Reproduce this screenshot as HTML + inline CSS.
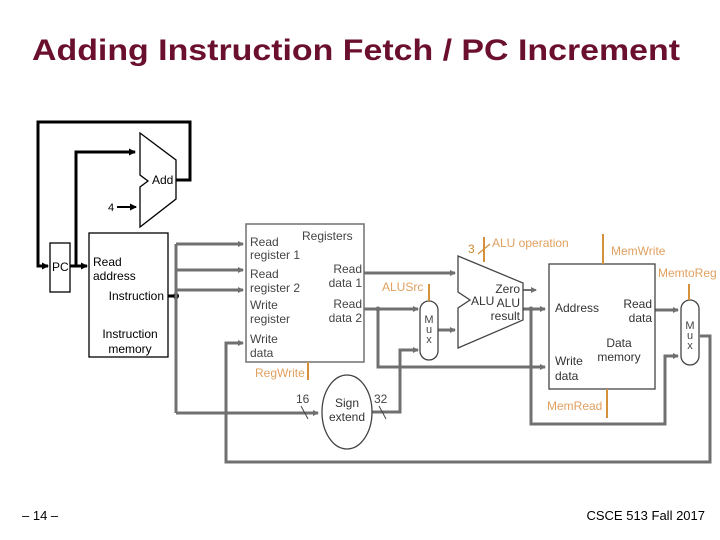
<!DOCTYPE html>
<html><head><style>
body{margin:0;background:#fff;width:720px;height:540px;overflow:hidden}
svg{display:block}
text{font-family:"Liberation Sans",sans-serif}
</style></head><body>
<svg width="720" height="540" viewBox="0 0 720 540">
<defs>
<marker id="ag" markerWidth="6" markerHeight="6" refX="5" refY="3" orient="auto" markerUnits="userSpaceOnUse"><path d="M0,0 L6,3 L0,6z" fill="#707070"/></marker>
<marker id="ab" markerWidth="7" markerHeight="7" refX="6" refY="3.5" orient="auto" markerUnits="userSpaceOnUse"><path d="M0,0 L7,3.5 L0,7z" fill="#000"/></marker>
</defs>
<text x="32" y="60" font-size="30" font-weight="bold" fill="#6b0f2e" textLength="648" lengthAdjust="spacingAndGlyphs">Adding Instruction Fetch / PC Increment</text>

<g fill="none" stroke="#000" stroke-width="3">
<polyline points="176,180 190,180 190,122 38,122 38,266 48,266" marker-end="url(#ab)"/>
<polyline points="70,266 76,266 76,152 135,152" marker-end="url(#ab)"/>
<line x1="76" y1="266" x2="87" y2="266" marker-end="url(#ab)"/>
<line x1="117" y1="207" x2="136" y2="207" stroke-width="2" marker-end="url(#ab)"/>
<line x1="164" y1="296" x2="176" y2="296"/>
</g>
<circle cx="176" cy="296" r="3" fill="#000"/>
<text x="108" y="211" font-size="11">4</text>
<polygon points="140,133 176,160 176,199 140,227 140,187 148,181 140,175" fill="#fff" stroke="#000" stroke-width="1.3"/>
<text x="152" y="184" font-size="12">Add</text>

<rect x="50" y="243" width="20" height="49" fill="#fff" stroke="#000" stroke-width="1.3"/>
<text x="52" y="271" font-size="12">PC</text>

<rect x="89" y="233" width="79" height="124" fill="#fff" stroke="#000" stroke-width="1.3"/>
<g font-size="12">
<text x="93" y="266">Read</text><text x="93" y="280">address</text>
<text x="164" y="300" text-anchor="end">Instruction</text>
<text x="130" y="338" text-anchor="middle">Instruction</text>
<text x="130" y="353" text-anchor="middle">memory</text>
</g>

<g fill="none" stroke="#707070" stroke-width="3">
<line x1="176" y1="244" x2="176" y2="413"/>
<line x1="176" y1="244" x2="243" y2="244" marker-end="url(#ag)"/>
<line x1="176" y1="270" x2="243" y2="270" marker-end="url(#ag)"/>
<line x1="176" y1="290" x2="243" y2="290" marker-end="url(#ag)"/>
<line x1="176" y1="413" x2="318" y2="413" marker-end="url(#ag)"/>
<polyline points="700,336 710,336 710,462 226,462 226,343 243,343" marker-end="url(#ag)"/>
<line x1="364" y1="273" x2="455" y2="273" marker-end="url(#ag)"/>
<line x1="364" y1="309" x2="418" y2="309" marker-end="url(#ag)"/>
<polyline points="378,309 378,367 545,367" marker-end="url(#ag)"/>
<polyline points="372,412 400,412 400,350 418,350" marker-end="url(#ag)"/>
<line x1="438" y1="330" x2="455" y2="330" marker-end="url(#ag)"/>
<line x1="522" y1="290" x2="536" y2="290" stroke-width="2" marker-end="url(#ag)"/>
<line x1="522" y1="309" x2="545" y2="309" marker-end="url(#ag)"/>
<polyline points="531,309 531,424 665,424 665,356 678,356" marker-end="url(#ag)"/>
<line x1="655" y1="310" x2="678" y2="310" marker-end="url(#ag)"/>
</g>
<circle cx="378" cy="309" r="2.5" fill="#707070"/>
<circle cx="531" cy="309" r="2.5" fill="#707070"/>

<rect x="246" y="224" width="118" height="138" fill="#fff" stroke="#707070" stroke-width="1.5"/>
<g font-size="12" fill="#444">
<text x="302" y="240">Registers</text>
<text x="250" y="246">Read</text><text x="250" y="259">register 1</text>
<text x="250" y="278">Read</text><text x="250" y="292">register 2</text>
<text x="250" y="309">Write</text><text x="250" y="323">register</text>
<text x="250" y="343">Write</text><text x="250" y="357">data</text>
<text x="362" y="273" text-anchor="end">Read</text><text x="362" y="287" text-anchor="end">data 1</text>
<text x="362" y="308" text-anchor="end">Read</text><text x="362" y="322" text-anchor="end">data 2</text>
</g>

<ellipse cx="347" cy="412" rx="25" ry="37" fill="#fff" stroke="#444" stroke-width="1.3"/>
<text x="347" y="407" font-size="12" text-anchor="middle" fill="#333">Sign</text>
<text x="347" y="421" font-size="12" text-anchor="middle" fill="#333">extend</text>
<text x="296" y="403" font-size="12" fill="#444">16</text>
<text x="374" y="403" font-size="12" fill="#444">32</text>
<line x1="301" y1="406" x2="308" y2="419" stroke="#444" stroke-width="1"/>
<line x1="379" y1="406" x2="386" y2="419" stroke="#444" stroke-width="1"/>

<rect x="420" y="301" width="18" height="59" rx="9" fill="#fff" stroke="#444" stroke-width="1.3"/>
<g font-size="11" fill="#444" text-anchor="middle">
<text x="429" y="323">M</text><text x="429" y="333">u</text><text x="429" y="343">x</text>
</g>

<polygon points="458,256 523,283 523,320 458,348 458,308 470,300 458,292" fill="#fff" stroke="#444" stroke-width="1.3"/>
<g font-size="12" fill="#333">
<text x="471" y="305">ALU</text>
<text x="520" y="293" text-anchor="end">Zero</text>
<text x="520" y="307" text-anchor="end">ALU</text>
<text x="520" y="320" text-anchor="end">result</text>
</g>

<rect x="549" y="264" width="106" height="125" fill="#fff" stroke="#444" stroke-width="1.3"/>
<g font-size="12" fill="#333">
<text x="555" y="312">Address</text>
<text x="652" y="308" text-anchor="end">Read</text><text x="652" y="322" text-anchor="end">data</text>
<text x="619" y="347" text-anchor="middle">Data</text><text x="619" y="361" text-anchor="middle">memory</text>
<text x="555" y="365">Write</text><text x="555" y="380">data</text>
</g>

<rect x="681" y="300" width="18" height="65" rx="9" fill="#fff" stroke="#444" stroke-width="1.3"/>
<text x="690" y="329" font-size="11" fill="#444" text-anchor="middle">M</text>
<text x="690" y="339" font-size="11" fill="#444" text-anchor="middle">u</text>
<text x="690" y="349" font-size="11" fill="#444" text-anchor="middle">x</text>

<g stroke="#d4903a" stroke-width="2">
<line x1="308" y1="362" x2="308" y2="380"/>
<line x1="429" y1="284" x2="429" y2="301"/>
<line x1="484" y1="237" x2="484" y2="262"/>
<line x1="478" y1="254" x2="490" y2="244" stroke-width="1.2"/>
<line x1="603" y1="234" x2="603" y2="264"/>
<line x1="607" y1="389" x2="607" y2="418"/>
<line x1="689" y1="284" x2="689" y2="300"/>
</g>
<g font-size="12" fill="#e0a060">
<text x="255" y="377">RegWrite</text>
<text x="382" y="291">ALUSrc</text>
<text x="468" y="253" fill="#c98a30">3</text>
<text x="492" y="247">ALU operation</text>
<text x="611" y="255">MemWrite</text>
<text x="547" y="410">MemRead</text>
<text x="658" y="277">MemtoReg</text>
</g>

<text x="22" y="520" font-size="13">– 14 –</text>
<text x="705" y="520" font-size="13" text-anchor="end">CSCE 513 Fall 2017</text>
</svg>
</body></html>
